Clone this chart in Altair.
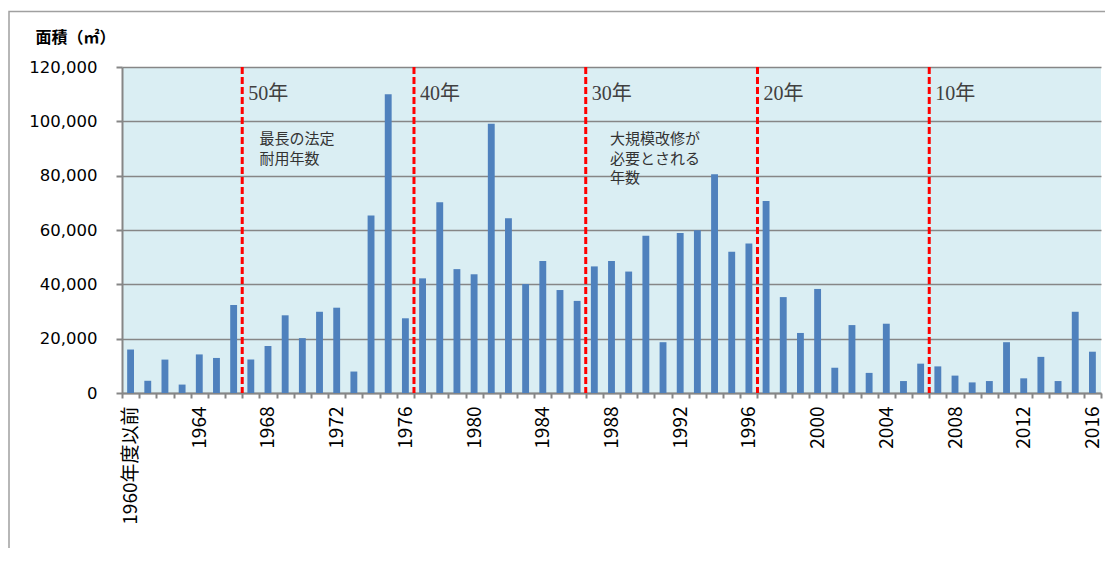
import altair as alt
import pandas as pd

# ---- data ----
categories = [
    "1960年度以前", "1961", "1962", "1963", "1964", "1965", "1966", "1967", "1968", "1969",
    "1970", "1971", "1972", "1973", "1974", "1975", "1976", "1977", "1978", "1979",
    "1980", "1981", "1982", "1983", "1984", "1985", "1986", "1987", "1988", "1989",
    "1990", "1991", "1992", "1993", "1994", "1995", "1996", "1997", "1998", "1999",
    "2000", "2001", "2002", "2003", "2004", "2005", "2006", "2007", "2008", "2009",
    "2010", "2011", "2012", "2013", "2014", "2015", "2016",
]
areas = [
    16000, 4500, 12300, 3100, 14200, 12900, 32400, 12300, 17300, 28600,
    20200, 29900, 31400, 7900, 65300, 110000, 27500, 42200, 70200, 45600,
    43700, 99100, 64300, 40100, 48600, 37900, 33900, 46600, 48600, 44700,
    57900, 18700, 58900, 59900, 80500, 52000, 55000, 70700, 35300, 22100,
    38300, 9300, 25000, 7400, 25500, 4400, 10800, 9800, 6400, 3900,
    4400, 18700, 5400, 13300, 4400, 29900, 15200,
]
y_ticks = [0, 20000, 40000, 60000, 80000, 100000, 120000]

period_cats = ["1967", "1977", "1987", "1997", "2007"]
period_labels = ["50年", "40年", "30年", "20年", "10年"]
period_y = [110000, 110000, 110000, 110000, 110000]

note1_cat = ["1968", "1968"]
note1_lines = ["最長の法定", "耐用年数"]
note1_y = [93600, 86300]

note2_cat = ["1988", "1988", "1988"]
note2_lines = ["大規模改修が", "必要とされる", "年数"]
note2_y = [93600, 86300, 79000]

# ---- tables ----
df = pd.DataFrame({"cat": categories, "area": areas})
df_period = pd.DataFrame({"cat": period_cats, "label": period_labels, "y": period_y})
df_note1 = pd.DataFrame({"cat": note1_cat, "label": note1_lines, "y": note1_y})
df_note2 = pd.DataFrame({"cat": note2_cat, "label": note2_lines, "y": note2_y})

xscale = alt.Scale(domain=categories, paddingInner=0, paddingOuter=0)
yscale = alt.Scale(domain=[0, 120000], nice=False)

label_expr = "datum.value == '1960年度以前' || toNumber(datum.value) % 4 == 0 ? datum.label : ''"

x_axis = alt.Axis(
    title=None,
    labelAngle=-90,
    labelExpr=label_expr,
    tickBand="extent",
    labelOverlap=False,
    labelFlush=False,
    labelFont="Liberation Sans Narrow, Noto Sans CJK JP",
    labelFontSize=19,
    labelColor="#000000",
    labelPadding=8,
    domainColor="#868686",
    domainWidth=2,
    tickColor="#868686",
    tickWidth=2,
    tickSize=5,
    grid=False,
)

y_axis = alt.Axis(
    values=y_ticks,
    format=",.0f",
    title="面積（㎡）",
    titleAngle=0,
    titleAlign="left",
    titleBaseline="middle",
    titleX=-87,
    titleY=-30,
    titleFont="Noto Sans CJK JP",
    titleFontSize=16,
    titleFontWeight="bold",
    titleColor="#000000",
    labelFont="DejaVu Sans",
    labelFontSize=16.5,
    labelColor="#000000",
    labelPadding=19,
    domainColor="#868686",
    domainWidth=2,
    tickColor="#868686",
    tickWidth=2,
    tickSize=6,
    grid=True,
    gridColor="#868686",
    gridWidth=1.6,
)

frame = alt.Chart(pd.DataFrame({"d": [0]})).mark_rect(
    fillOpacity=0, stroke="#a0a0a0", strokeWidth=1.5
).encode(
    x=alt.value(-113), x2=alt.value(1400), y=alt.value(-55.5), y2=alt.value(1000)
)

bars = alt.Chart(df).mark_bar(color="#4F81BD", width=alt.RelativeBandSize(0.4)).encode(
    x=alt.X("cat:N", scale=xscale, sort=categories, axis=x_axis),
    y=alt.Y("area:Q", scale=yscale, axis=y_axis),
)

rules = alt.Chart(df_period).mark_rule(
    color="#FF0000", strokeWidth=3, strokeDash=[7, 3]
).encode(
    x=alt.X("cat:N", bandPosition=0, scale=xscale, sort=categories),
)

period_text = alt.Chart(df_period).mark_text(
    align="left", baseline="middle", dx=6,
    font="Liberation Serif, Noto Sans CJK JP", fontSize=20, color="#404040",
).encode(
    x=alt.X("cat:N", bandPosition=0, scale=xscale, sort=categories),
    y=alt.Y("y:Q", scale=yscale),
    text="label:N",
)

note1_text = alt.Chart(df_note1).mark_text(
    align="left", baseline="middle", dx=0,
    font="Noto Sans CJK JP", fontSize=15, color="#333333",
).encode(
    x=alt.X("cat:N", bandPosition=0, scale=xscale, sort=categories),
    y=alt.Y("y:Q", scale=yscale),
    text="label:N",
)

note2_text = alt.Chart(df_note2).mark_text(
    align="left", baseline="middle", dx=7,
    font="Noto Sans CJK JP", fontSize=15, color="#333333",
).encode(
    x=alt.X("cat:N", bandPosition=0, scale=xscale, sort=categories),
    y=alt.Y("y:Q", scale=yscale),
    text="label:N",
)

chart = alt.layer(frame, bars, rules, period_text, note1_text, note2_text).properties(
    width=979,
    height=326,
    autosize=alt.AutoSizeParams(type="none"),
    padding={"left": 114, "top": 59, "right": 4, "bottom": 155},
).configure_view(
    strokeWidth=0, fill="#DAEEF3"
)

chart.save("out.html", embed_options={"renderer": "svg", "actions": False})
